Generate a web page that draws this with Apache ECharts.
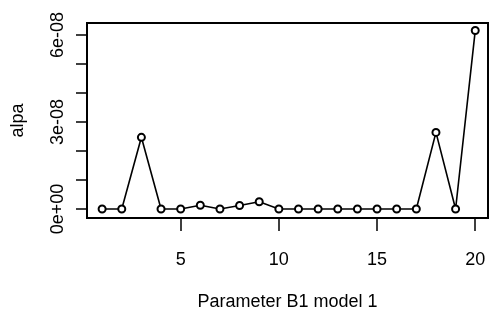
<!DOCTYPE html>
<html>
<head>
<meta charset="utf-8">
<script src="https://cdn.jsdelivr.net/npm/echarts@6/dist/echarts.min.js"></script>
<style>
html,body{margin:0;padding:0;background:#fff;}
#c{width:489px;height:324px;}
</style>
</head>
<body>
<div id="c"></div>
<script>
// Data
const params = [1,2,3,4,5,6,7,8,9,10,11,12,13,14,15,16,17,18,19,20];
const alpa = [0, 0, 2.47e-8, 0, 0, 0.13e-8, 0, 0.12e-8, 0.25e-8, 0, 0, 0, 0, 0, 0, 0, 0, 2.64e-8, 0, 6.15e-8];
const xTicks = [5, 10, 15, 20];
const yTicks = [0, 1e-8, 2e-8, 3e-8, 4e-8, 5e-8, 6e-8];
const yLabels = [0, 3e-8, 6e-8];
const xTitle = 'Parameter B1 model 1';
const yTitle = 'alpa';

function sci(v){
  if (Math.abs(v) < 1e-20) return '0e+00';
  const parts = v.toExponential(0).split('e');
  const n = parseInt(parts[1], 10);
  return parts[0] + 'e' + (n < 0 ? '-' : '+') + String(Math.abs(n)).padStart(2, '0');
}

const font = 'Liberation Sans';
const fs = 18;
const chart = echarts.init(document.getElementById('c'), null, {renderer:'canvas'});
chart.setOption({
  animation:false,
  backgroundColor:'#ffffff',
  grid:{left:87, right:1, top:23, bottom:106, show:true, borderColor:'#000', borderWidth:2, backgroundColor:'transparent', containLabel:false},
  xAxis:{
    type:'value', min:0.23, max:20.65,
    name:xTitle, nameLocation:'middle', nameGap:75,
    nameTextStyle:{fontFamily:font, fontSize:fs, color:'#000'},
    axisLine:{show:true, onZero:false, lineStyle:{color:'#000', width:2}},
    axisTick:{show:true, length:13, customValues:xTicks, lineStyle:{color:'#000', width:1.5}},
    axisLabel:{customValues:xTicks, margin:33, fontFamily:font, fontSize:fs, color:'#000'},
    splitLine:{show:false}
  },
  yAxis:{
    type:'value', min:-0.31e-8, max:6.41e-8,
    name:yTitle, nameLocation:'middle', nameGap:60, nameRotate:90,
    nameTextStyle:{fontFamily:font, fontSize:fs, color:'#000'},
    axisLine:{show:true, onZero:false, lineStyle:{color:'#000', width:2}},
    axisTick:{show:true, length:11, customValues:yTicks, lineStyle:{color:'#000', width:1.5}},
    axisLabel:{customValues:yLabels, rotate:90, margin:20, fontFamily:font, fontSize:fs, color:'#000', formatter:sci},
    splitLine:{show:false}
  },
  series:[{
    type:'line',
    data:params.map((p,i)=>[p, alpa[i]]),
    symbol:'emptyCircle', symbolSize:7,
    lineStyle:{color:'#000', width:1.6},
    itemStyle:{color:'#000', borderColor:'#000', borderWidth:1.6},
    clip:false
  }]
});
</script>
</body>
</html>
